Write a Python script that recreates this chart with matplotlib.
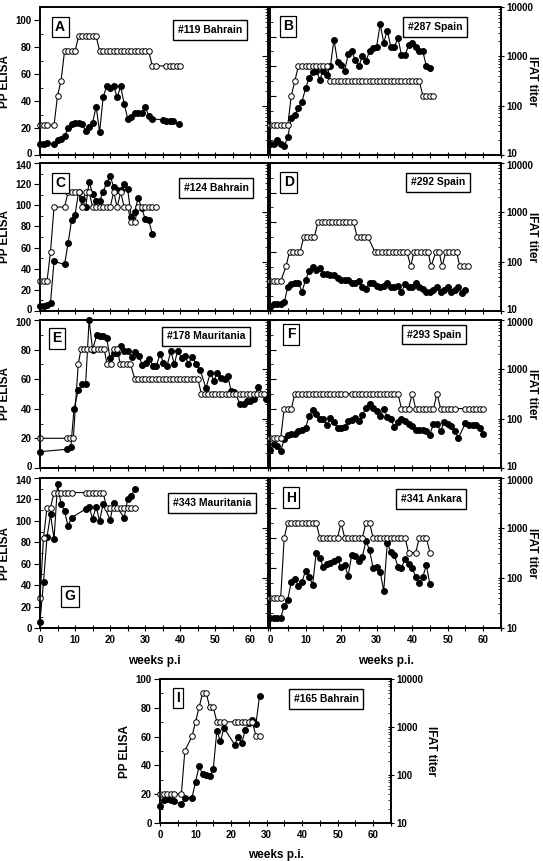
import numpy as np
import matplotlib
matplotlib.use("Agg")
import matplotlib.pyplot as plt
from matplotlib.ticker import MultipleLocator, FixedLocator, LogLocator, NullFormatter
from matplotlib.transforms import ScaledTranslation

plt.rcParams["font.family"] = ["Liberation Sans", "DejaVu Sans"]
plt.rcParams["font.weight"] = "bold"

# ---- data: weeks p.i., PP ELISA (filled) and IFAT titer (open) ----
A_pp_wk = [0, 1, 2, 4, 5, 6, 7, 8, 9, 10, 11, 12, 13, 14, 15, 16, 17, 18, 19, 20, 21, 22, 23, 24,
           25, 26, 27, 28, 29, 30, 31, 32, 35, 36, 37, 38, 39.5]
A_pp = [8, 8, 9, 8, 11, 12, 14, 20, 23, 24, 24, 23, 18, 21, 24, 36, 17, 43, 51, 50, 51, 43, 51, 38,
        27, 28, 31, 31, 31, 36, 29, 27, 26, 25, 25, 25, 23]
A_ifat_wk = [0, 1, 2, 4, 5, 6, 7, 8, 9, 10, 11, 12, 13, 14, 15, 16, 17, 18, 19, 20, 21, 22, 23, 24,
             25, 26, 27, 28, 29, 30, 31, 32, 33, 36, 37, 38, 39, 40]
A_ifat = [40, 40, 40, 40, 160, 320, 1280, 1280, 1280, 1280, 2560, 2560, 2560, 2560, 2560, 2560,
          1280, 1280, 1280, 1280, 1280, 1280, 1280, 1280, 1280, 1280, 1280, 1280, 1280, 1280, 1280,
          640, 640, 640, 640, 640, 640, 640]

B_pp_wk = [0, 1, 2, 3, 4, 5, 6, 7, 8, 9, 10, 11, 12, 13, 14, 15, 16, 17, 18, 19, 20, 21, 22, 23,
           24, 25, 26, 27, 28, 29, 30, 31, 32, 33, 34, 35, 36, 37, 38, 39, 40, 41, 42, 43, 44, 45]
B_pp = [7.5, 7.5, 10, 7.5, 6, 12, 25, 27, 32, 36, 45, 52, 56, 57, 51, 57, 54, 60, 78, 63, 61, 57,
        68, 70, 64, 60, 67, 63.5, 70, 72, 73, 88.5, 76, 84, 73, 73, 79, 67.6, 67.6, 74, 76, 73, 70,
        70, 60, 59]
B_ifat_wk = [0, 1, 2, 3, 4, 5, 6, 7, 8, 9, 10, 11, 12, 13, 14, 15, 16, 17, 18, 19, 20, 21, 22, 23,
             24, 25, 26, 27, 28, 29, 30, 31, 32, 33, 34, 35, 36, 37, 38, 39, 40, 41, 42, 43, 44, 45, 46]
B_ifat = [40, 40, 40, 40, 40, 40, 160, 320, 640, 640, 640, 640, 640, 640, 640, 640, 640,
          320, 320, 320, 320, 320, 320, 320, 320, 320, 320, 320, 320, 320, 320, 320, 320, 320,
          320, 320, 320, 320, 320, 320, 320, 320, 320, 160, 160, 160, 160]

C_pp_wk = [0, 1, 2, 3, 4, 7, 8, 9, 10, 11, 12, 13, 14, 15, 16, 17, 18, 19, 20, 21, 22, 23, 24, 25,
           26, 27, 28, 29, 30, 31, 32]
C_pp = [5, 5, 6, 8, 47, 44, 64, 86, 91, 113, 106, 98, 122, 111, 104, 104, 113, 121, 128, 117, 114,
        114, 120, 115, 89, 94, 107, 97, 87, 86, 73]
C_ifat_wk = [0, 1, 2, 3, 4, 7, 8, 9, 10, 11, 12, 13, 14, 15, 16, 17, 18, 19, 20, 21, 22, 23, 24,
             25, 26, 27, 28, 29, 30, 31, 32, 33]
C_ifat = [40, 40, 40, 160, 1280, 1280, 2560, 2560, 2560, 2560, 1280, 2560, 2560, 1280, 1280, 1280,
          1280, 1280, 1280, 2560, 1280, 2560, 1280, 1280, 640, 640, 1280, 1280, 1280, 1280, 1280, 1280]

D_pp_wk = [0, 1, 2, 3, 4, 5, 6, 7, 8, 9, 10, 11, 12, 13, 14, 15, 16, 17, 18, 19, 20, 21, 22, 23,
           24, 25, 26, 27, 28, 29, 30, 31, 32, 33, 34, 35, 36, 37, 38, 39, 40, 41, 42, 43, 44, 45,
           46, 47, 48, 49, 50, 51, 52, 53, 54, 55]
D_pp = [3, 5, 5, 5, 6, 16, 18, 19, 19, 13, 21, 27, 30, 28, 29, 25, 25, 24, 24, 22, 21, 21, 21, 19,
        19, 20, 16, 15, 19, 19, 17, 16, 17, 19, 16, 16, 17, 13, 18, 16, 16, 19, 16, 15, 13, 13, 14,
        16, 13, 14, 16, 13, 14, 16, 12, 14]
D_ifat_wk = [0, 1, 2, 3, 4.5, 5.5, 6.5, 7.5, 8.5, 9.5, 10.5, 11.5, 12.5, 13.5, 14.5, 15.5, 16.5,
             17.5, 18.5, 19.5, 20.5, 21.5, 22.5, 23.5, 24.5, 25.5, 26.5, 27.5, 29.5, 30.5, 31.5,
             32.5, 33.5, 34.5, 35.5, 36.5, 37.5, 38.5, 39.6, 40.5, 41.5, 42.5, 43.5, 44.5, 45.3,
             46.7, 47.6, 48.4, 49.5, 50.5, 51.5, 52.5, 53.4, 54.5, 55.6]
D_ifat = [40, 40, 40, 40, 80, 160, 160, 160, 160, 320, 320, 320, 320, 640, 640, 640, 640, 640,
          640, 640, 640, 640, 640, 640, 320, 320, 320, 320, 160, 160, 160, 160, 160, 160, 160, 160,
          160, 160, 80, 160, 160, 160, 160, 160, 80, 160, 160, 80, 160, 160, 160, 160, 80, 80, 80]

E_pp_wk = [0, 7.8, 8.8, 9.7, 10.9, 12.1, 13, 14, 15, 16.2, 17.1, 18.1, 19, 20, 21, 21.9, 23, 24, 25,
           26.1, 27.2, 28.2, 29.1, 30.1, 31.2, 32.2, 33.1, 34.3, 35.2, 36.2, 37.3, 38.3, 39.2, 40.4,
           41.3, 42.3, 43.4, 44.5, 45.7, 47.3, 48.6, 49.5, 50.5, 51.6, 52.6, 53.5, 54.5, 55.4, 57.1,
           58.1, 59, 60, 61, 62.1, 64.5]
E_pp = [11, 12.7, 14.5, 40, 52.7, 56.5, 56.5, 100, 80, 90, 89, 89, 88, 74, 78, 78, 82.5, 79, 79, 75,
        78.5, 76, 69.6, 71, 73.5, 69, 69, 77, 71, 69, 79, 70, 79, 74.6, 76, 70.5, 75, 70, 66, 54,
        64.5, 59, 64, 61, 60, 62.5, 52, 51.5, 43, 43, 45.6, 45.6, 46.5, 54.7, 46.5]
E_ifat_wk = [0, 7.6, 8.6, 9.5, 10.9, 11.7, 12.6, 13.5, 14.5, 15.4, 16.4, 17.4, 18.3, 19.1, 20.1,
             21.1, 22, 22.9, 23.8, 24.8, 25.8, 27, 28, 29, 30, 31, 32, 33, 34, 35, 36, 37, 38, 39,
             40, 41, 42, 43, 44, 45, 46, 47, 48, 49, 50, 51, 52, 53, 54, 55, 56, 57, 58, 59, 60, 61,
             62, 63, 64]
E_ifat = [40, 40, 40, 40, 1280, 2560, 2560, 2560, 2560, 2560, 2560, 2560, 2560, 1280, 1280, 2560,
          2560, 1280, 1280, 1280, 1280, 640, 640, 640, 640, 640, 640, 640, 640, 640, 640, 640, 640,
          640, 640, 640, 640, 640, 640, 640, 320, 320, 320, 320, 320, 320, 320, 320, 320, 320, 320,
          320, 320, 320, 320, 320, 320, 320, 320]

F_pp_wk = [0, 1, 2, 3, 4, 5, 6, 7, 8, 9, 10, 11, 12, 13, 14, 15, 16, 17, 18, 19, 20, 21, 22, 23,
           24, 25, 26, 27, 28, 29, 30, 31, 32, 33, 34, 35, 36, 37, 38, 39, 40, 41, 42, 43, 44, 45,
           46, 47, 48, 49, 50, 51, 52, 53, 55, 56, 57, 58, 59, 60]
F_pp = [12, 16, 15, 11.5, 19.5, 22, 23, 23, 25, 26, 27, 35, 39, 36.6, 32.8, 33, 29, 33.6, 30.8, 27,
        27, 27.6, 31.7, 32.4, 33.6, 31.7, 35.7, 40.7, 43.4, 40.7, 38.5, 35, 40, 34.6, 32.8, 27.6,
        30.8, 32.8, 32, 29.6, 28.4, 26, 26, 26, 24.9, 22.6, 30, 29.6, 24.9, 31, 29.6, 28.4, 24.9,
        20.3, 30.3, 29, 29, 29, 27, 23.3]
F_ifat_wk = [0, 1, 2, 3, 4, 5, 6, 7, 8, 9, 10, 11, 12, 13, 14, 15, 16, 17, 18, 19, 20, 21, 23, 24,
             25, 26, 27, 28, 29, 30, 31, 32, 33, 34, 35, 36, 37, 38, 39, 40, 41, 42, 43, 44, 45, 46,
             47, 48, 49, 50, 51, 52, 55, 56, 57, 58, 59, 60]
F_ifat = [40, 40, 40, 40, 160, 160, 160, 320, 320, 320, 320, 320, 320, 320, 320, 320, 320, 320, 320,
          320, 320, 320, 320, 320, 320, 320, 320, 320, 320, 320, 320, 320, 320, 320, 320, 320, 160,
          160, 160, 320, 160, 160, 160, 160, 160, 160, 320, 160, 160, 160, 160, 160, 160, 160, 160,
          160, 160, 160]

G_pp_wk = [0, 1, 2, 3, 4, 5, 6, 7, 8, 9, 13, 14, 15, 16, 17, 18, 20, 21, 24, 25, 26, 27]
G_pp = [6, 43, 85, 106, 83, 134, 116, 109, 95, 103, 111, 113, 102, 113, 100, 116, 101, 117, 103,
        120, 123, 130]
G_ifat_wk = [0, 1, 2, 3, 4, 5, 6, 7, 8, 9, 13, 14, 15, 16, 17, 18, 19, 20, 21, 22, 23, 24, 25, 26, 27]
G_ifat = [40, 640, 2560, 2560, 5120, 5120, 5120, 5120, 5120, 5120, 5120, 5120, 5120, 5120, 5120,
          5120, 2560, 2560, 2560, 2560, 2560, 2560, 2560, 2560, 2560]

H_pp_wk = [0, 1, 2, 3, 4, 5, 6, 7, 8, 9, 10, 11, 12, 13, 14, 15, 16, 17, 18, 19, 20, 21, 22, 23,
           24, 25, 26, 27, 28, 29, 30, 31, 32, 33, 34, 35, 36, 37, 38, 39, 40, 41, 42, 43, 44, 45]
H_pp = [6.4, 6.4, 6.4, 6.4, 15, 19, 31, 33, 28, 31, 38, 34, 29, 50, 47, 40.4, 42.7, 43.6, 45, 46,
        40.4, 41.8, 35, 48.7, 48, 44.7, 47.6, 58, 52, 40.2, 40.4, 37.6, 24.7, 56.4, 51, 48.4, 40.9,
        40.2, 46, 42.7, 40, 34.2, 30, 34.2, 41.8, 29.1]
H_ifat_wk = [0, 1, 2, 3, 4, 5, 6, 7, 8, 9, 10, 11, 12, 13, 14, 15, 16, 17, 18, 19, 20, 21, 22, 23,
             24, 25, 26, 27, 28, 29, 30, 31, 32, 33, 34, 35, 36, 37, 38, 39, 41, 42, 43, 44, 45]
H_ifat = [40, 40, 40, 40, 640, 1280, 1280, 1280, 1280, 1280, 1280, 1280, 1280, 1280, 640, 640, 640,
          640, 640, 640, 1280, 640, 640, 640, 640, 640, 640, 1280, 1280, 640, 640, 640, 640, 640,
          640, 640, 640, 640, 640, 320, 320, 640, 640, 640, 320]

I_pp_wk = [0, 1, 2, 3, 4, 6, 7, 9, 10, 11, 12, 13, 14, 15, 16, 17, 18, 21, 22, 23, 24, 25, 26, 27, 28]
I_pp = [12, 16, 17, 16, 15, 13, 17.6, 17.6, 28.5, 39.4, 33.9, 33.6, 32.5, 37.8, 64, 56.8, 66, 54.5,
        60, 55.7, 64.5, 69.6, 71.5, 68.7, 88.4]
I_ifat_wk = [0, 1, 2, 3, 4, 6, 7, 9, 10, 11, 12, 13, 14, 15, 16, 17, 18, 21, 22, 23, 24, 25, 26, 27, 28]
I_ifat = [40, 40, 40, 40, 40, 40, 320, 640, 1280, 2560, 5120, 5120, 2560, 2560, 1280, 1280, 1280,
          1280, 1280, 1280, 1280, 1280, 1280, 640, 640]

W, H = 543, 861
fig = plt.figure(figsize=(W / 100, H / 100), dpi=100)


def rect(x0, x1, top, bot):
    return [x0 / W, 1 - bot / H, (x1 - x0) / W, (bot - top) / H]


def panel(box, wk_pp, pp, wk_ifat, ifat, letter, name, letter_xy, name_xy,
          pp_top=100, pp_ticks=100, side="left", xlabel=None, ifat_x=1.135):
    ax = fig.add_axes(box)
    ax2 = ax.twinx()

    ax.plot(wk_pp, pp, "-o", color="black", ms=4, lw=0.8, clip_on=False)
    ax2.plot(wk_ifat, ifat, "-o", color="black", mfc="white", mec="black",
             ms=4, mew=0.7, lw=0.8, clip_on=False)

    ax.set_xlim(0, 65)
    ax.set_ylim(0, pp_top)
    ax2.set_yscale("log")
    ax2.set_ylim(10, 10000)

    ax.xaxis.set_major_locator(MultipleLocator(10))
    ax.xaxis.set_minor_locator(MultipleLocator(5))
    ax.tick_params(axis="x", which="both", direction="inout", length=4, width=0.8,
                   labelsize=7, labelbottom=xlabel is not None, pad=3)

    ax.yaxis.set_major_locator(FixedLocator(list(range(0, pp_ticks + 1, 20))))
    ax.yaxis.set_minor_locator(MultipleLocator(10))
    ax2.yaxis.set_major_locator(FixedLocator([10, 100, 1000, 10000]))
    ax2.yaxis.set_minor_locator(LogLocator(base=10, subs=np.arange(2, 10)))
    ax2.yaxis.set_minor_formatter(NullFormatter())
    ax2.set_yticklabels(["10", "100", "1000", "10000"])

    show_left = side in ("left", "both")
    show_right = side in ("right", "both")
    ax.tick_params(axis="y", which="major", direction="out" if show_left else "in",
                   length=4, width=0.8, labelsize=7, labelleft=show_left, pad=2)
    ax.tick_params(axis="y", which="minor", direction="in", length=2, width=0.6)
    ax2.tick_params(axis="y", which="major", direction="inout" if show_right else "in",
                    length=4, width=0.8, labelsize=7, labelright=show_right, pad=2)
    ax2.tick_params(axis="y", which="minor", direction="in", length=2, width=0.6)

    for a in (ax, ax2):
        for s in a.spines.values():
            s.set_linewidth(1.2)

    if show_left:
        ax.set_ylabel("PP ELISA", fontsize=8.5, fontweight="bold")
        ax.yaxis.set_label_coords(-0.125, 0.5)
    if show_right:
        ax2.set_ylabel("IFAT titer", fontsize=8.5, fontweight="bold", rotation=270,
                       va="center")
        ax2.yaxis.set_label_coords(ifat_x, 0.5)
    if xlabel:
        ax.set_xlabel(xlabel, fontsize=8.5, fontweight="bold")
        ax.xaxis.set_label_coords(0.5, -0.18)

    ax2.text(*letter_xy, letter, transform=ax2.transAxes, ha="center", va="center",
             fontsize=10, fontweight="bold", zorder=10,
             bbox=dict(boxstyle="square,pad=0.25", fc="white", ec="black", lw=0.9))
    ax2.text(*name_xy, name, transform=ax2.transAxes, ha="center", va="center",
             fontsize=7.5, fontweight="bold", zorder=10,
             bbox=dict(boxstyle="square,pad=0.45", fc="white", ec="black", lw=1.0))
    return ax, ax2


LX0, LX1, RX0, RX1 = 40, 268, 270, 501
rows = [(7, 155), (163, 311), (320, 468), (478, 628)]

left_axes, right_axes = [], []
left_axes.append(panel(rect(LX0, LX1, *rows[0]), A_pp_wk, A_pp, A_ifat_wk, A_ifat, "A",
                       "#119 Bahrain", (0.088, 0.865), (0.746, 0.845), pp_top=110,
                       pp_ticks=100, side="left")[0])
right_axes.append(panel(rect(RX0, RX1, *rows[0]), B_pp_wk, B_pp, B_ifat_wk, B_ifat, "B",
                        "#287 Spain", (0.078, 0.87), (0.714, 0.865), side="right")[1])
left_axes.append(panel(rect(LX0, LX1, *rows[1]), C_pp_wk, C_pp, C_ifat_wk, C_ifat, "C",
                       "#124 Bahrain", (0.088, 0.865), (0.772, 0.83), pp_top=140,
                       pp_ticks=140, side="left")[0])
right_axes.append(panel(rect(RX0, RX1, *rows[1]), D_pp_wk, D_pp, D_ifat_wk, D_ifat, "D",
                        "#292 Spain", (0.082, 0.87), (0.727, 0.87), side="right")[1])
left_axes.append(panel(rect(LX0, LX1, *rows[2]), E_pp_wk, E_pp, E_ifat_wk, E_ifat, "E",
                       "#178 Mauritania", (0.075, 0.878), (0.728, 0.89), pp_top=100,
                       pp_ticks=100, side="left")[0])
right_axes.append(panel(rect(RX0, RX1, *rows[2]), F_pp_wk, F_pp, F_ifat_wk, F_ifat, "F",
                        "#293 Spain", (0.091, 0.905), (0.71, 0.90), side="right")[1])
left_axes.append(panel(rect(LX0, LX1, *rows[3]), G_pp_wk, G_pp, G_ifat_wk, G_ifat, "G",
                       "#343 Mauritania", (0.13, 0.21), (0.754, 0.833), pp_top=140,
                       pp_ticks=140, side="left", xlabel="weeks p.i")[0])
right_axes.append(panel(rect(RX0, RX1, *rows[3]), H_pp_wk, H_pp, H_ifat_wk, H_ifat, "H",
                        "#341 Ankara", (0.091, 0.867), (0.697, 0.86), side="right",
                        xlabel="weeks p.i.")[1])
panel(rect(160, 391, 679, 823), I_pp_wk, I_pp, I_ifat_wk, I_ifat, "I", "#165 Bahrain",
      (0.078, 0.868), (0.719, 0.861), pp_top=100, pp_ticks=100, side="both",
      xlabel="weeks p.i.", ifat_x=1.175)

# stacked panels: nudge the touching end labels apart a little
fig.canvas.draw()
up = ScaledTranslation(0, 1.6 / 72, fig.dpi_scale_trans)
down = ScaledTranslation(0, -1.6 / 72, fig.dpi_scale_trans)
for axes_col in (left_axes, right_axes):
    for k, a in enumerate(axes_col):
        ticks = a.yaxis.get_major_ticks()
        for side_lbl in ("label1", "label2"):
            if k < 3:
                lbl = getattr(ticks[0], side_lbl)
                lbl.set_transform(lbl.get_transform() + up)
            if k > 0:
                lbl = getattr(ticks[-1], side_lbl)
                lbl.set_transform(lbl.get_transform() + down)

fig.savefig("out.png", dpi=100)
